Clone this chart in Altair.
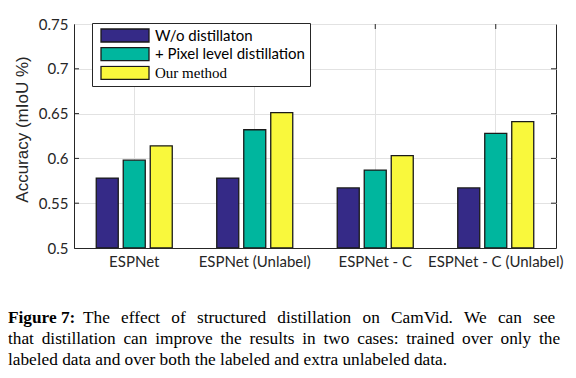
import altair as alt
import pandas as pd

models = ["ESPNet", "ESPNet (Unlabel)", "ESPNet - C", "ESPNet - C (Unlabel)"]
methods = ["W/o distillaton", "+ Pixel level distillation", "Our method"]
wo_distill = [0.578, 0.578, 0.567, 0.567]
pixel_distill = [0.598, 0.632, 0.587, 0.628]
our_method = [0.614, 0.651, 0.603, 0.641]
colors = ["#352A87", "#00B69E", "#F9F83C"]
y_ticks = [0.5, 0.55, 0.6, 0.65, 0.7, 0.75]
y_title = "Accuracy (mIoU %)"
caption_head = "Figure 7:"
caption_lines = [
    "The effect of structured distillation on CamVid.  We can see",
    "that distillation can improve the results in two cases: trained over only the",
    "labeled data and over both the labeled and extra unlabeled data.",
]

rows = []
for series, vals in zip(methods, [wo_distill, pixel_distill, our_method]):
    for m, v in zip(models, vals):
        rows.append({"model": m, "method": series, "value": v})
df = pd.DataFrame(rows)

W, H = 482, 224
AX = "#262626"
SANS = "Lato"
GRID = "#e2e2e2"

x_scale = alt.Scale(domain=models, paddingInner=0, paddingOuter=0)
y_scale = alt.Scale(domain=[0.5, 0.75], zero=False, nice=False)

x_axis = alt.Axis(title=None, labelAngle=0, ticks=False, labelFont=SANS,
                  labelFontSize=15, labelColor=AX, labelPadding=6,
                  domainColor=AX, grid=True, gridColor=GRID, labelLimit=300)
y_axis = alt.Axis(values=y_ticks, format="~g", title=y_title, ticks=False,
                  labelFont=SANS, labelFontSize=15, labelColor=AX, labelPadding=6,
                  domainColor=AX, grid=True, gridColor=GRID,
                  titleFont="Liberation Sans", titleFontSize=17,
                  titleFontWeight="normal", titleColor=AX, titlePadding=7,
                  titleY=105)

bars = alt.Chart(df).mark_bar(stroke="#1a1a1a", strokeWidth=1.3, clip=True).encode(
    x=alt.X("model:N", sort=models, scale=x_scale, axis=x_axis),
    xOffset=alt.XOffset("method:N", sort=methods,
                        scale=alt.Scale(domain=methods, paddingInner=0.185, paddingOuter=0.824)),
    y=alt.Y("value:Q", scale=y_scale, axis=y_axis),
    y2=alt.datum(0.5),
    color=alt.Color("method:N", sort=methods,
                    scale=alt.Scale(domain=methods, range=colors),
                    legend=alt.Legend(
                        title=None, orient="none", legendX=18, legendY=-1,
                        fillColor="white", strokeColor=AX, padding=5,
                        symbolType="M-4,-1.08L4,-1.08L4,1.08L-4,1.08Z", symbolSize=144,
                        symbolStrokeColor="#1a1a1a", symbolStrokeWidth=1.3,
                        symbolOpacity=1, symbolOffset=20.5, labelOffset=22.5,
                        labelFont=alt.ExprRef("datum.label == 'Our method' ? 'Liberation Serif' : 'Lato'"),
                        labelFontSize=15, labelColor="black", labelLimit=300,
                        clipHeight=15, rowPadding=2.7)),
)

ytick_df = pd.DataFrame({"value": y_ticks[1:-1]})
xtick_df = pd.DataFrame({"model": models})

left_ticks = alt.Chart(ytick_df).mark_rule(color=AX, strokeWidth=1).encode(
    y=alt.Y("value:Q", scale=y_scale, axis=y_axis), x=alt.value(0), x2=alt.value(5))
right_ticks = alt.Chart(ytick_df).mark_rule(color=AX, strokeWidth=1).encode(
    y=alt.Y("value:Q", scale=y_scale, axis=y_axis), x=alt.value(W - 5), x2=alt.value(W))
top_ticks = alt.Chart(xtick_df).mark_rule(color=AX, strokeWidth=1).encode(
    x=alt.X("model:N", sort=models, scale=x_scale, axis=x_axis), y=alt.value(0), y2=alt.value(5))

CAP_SIZE = 17.3


def justify(text, extra):
    # emulate the justified typesetting of the caption with thin spaces
    return (" " + "\u2009" * extra).join(text.split())


def cap(text, x, y, bold=False):
    return alt.Chart(alt.Data(values=[{"t": text}])).mark_text(
        align="left", baseline="alphabetic", font="Liberation Serif", fontSize=CAP_SIZE,
        fontWeight="bold" if bold else "normal", color="black"
    ).encode(x=alt.value(x), y=alt.value(y), text="t:N")


captions = [
    cap(caption_head, -66, 299, bold=True),
    cap(justify(caption_lines[0], 2), 9, 299),
    cap(justify(caption_lines[1], 1), -66, 320),
    cap(caption_lines[2], -66, 341),
]

chart = alt.layer(bars, left_ticks, right_ticks, top_ticks, *captions).properties(
    width=W, height=H,
    autosize=alt.AutoSizeParams(type="none"),
    padding={"left": 66, "top": 16, "right": 12, "bottom": 122},
).configure_view(stroke=AX, strokeWidth=1)

chart.save("out.html", embed_options={"renderer": "svg", "actions": False})
